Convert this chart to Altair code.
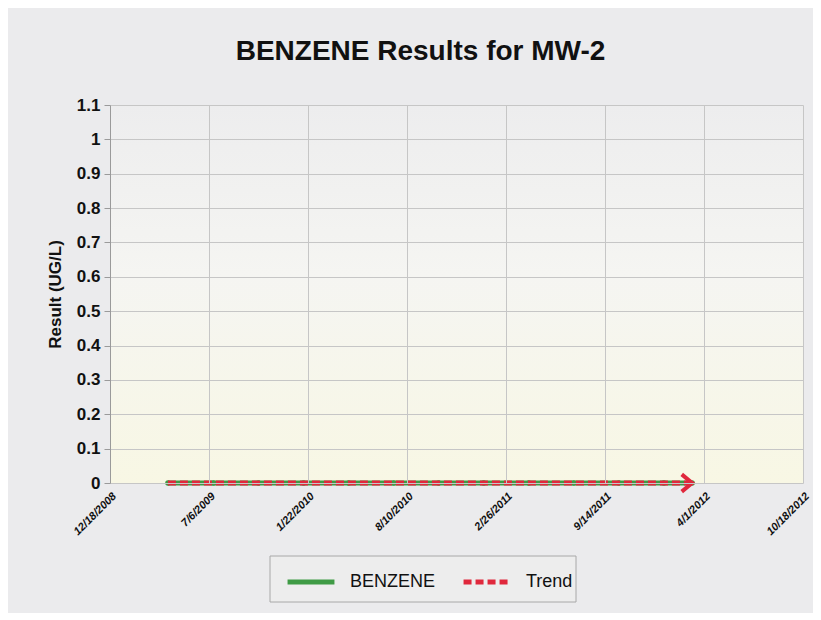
import altair as alt
import pandas as pd

# ---- data ----
sample_dates = ["2009-04-14", "2009-07-15", "2009-10-14", "2010-01-13", "2010-04-14",
                "2010-07-14", "2010-10-13", "2011-01-12", "2011-04-13", "2011-07-13",
                "2011-10-12", "2012-01-11", "2012-03-08"]
benzene_values = [0.0, 0.0, 0.0, 0.0, 0.0, 0.0, 0.0, 0.0, 0.0, 0.0, 0.0, 0.0, 0.0]
trend_dates = ["2009-04-14", "2012-03-08"]
trend_values = [0.0, 0.0]
x_tick_dates = [(2008, 12, 18), (2009, 7, 6), (2010, 1, 22), (2010, 8, 10),
                (2011, 2, 26), (2011, 9, 14), (2012, 4, 1), (2012, 10, 18)]
y_ticks = [0, 0.1, 0.2, 0.3, 0.4, 0.5, 0.6, 0.7, 0.8, 0.9, 1, 1.1]
series_names = ["BENZENE", "Trend"]
series_colors = ["#3f9b45", "#e0283c"]

W, H = 693, 378
FONT = "Liberation Sans"

benz = pd.DataFrame({"date": sample_dates, "value": benzene_values, "series": "BENZENE"})
trend = pd.DataFrame({"date": trend_dates, "value": trend_values, "series": "Trend"})
arrow = trend.tail(1)

def dt(t):
    return alt.DateTime(year=t[0], month=t[1], date=t[2], utc=True)

x_enc = alt.X("date:T",
              scale=alt.Scale(type="utc", domain=[dt(x_tick_dates[0]), dt(x_tick_dates[-1])]),
              axis=alt.Axis(values=[dt(t) for t in x_tick_dates],
                            labelExpr="utcFormat(datum.value, '%-m/%-d/%Y')",
                            title=None, labelAngle=-45, labelAlign="right",
                            labelBaseline="top", labelFont=FONT, labelFontSize=11,
                            labelFontWeight="bold", labelFontStyle="italic", labelColor="#111",
                            grid=True, gridColor="#c6c6c6", domain=False, ticks=False,
                            labelPadding=7, labelOverlap=False, zindex=1))
y_enc = alt.Y("value:Q",
              scale=alt.Scale(domain=[0, 1.1], nice=False),
              axis=alt.Axis(values=y_ticks, format="~g", title="Result (UG/L)", titleFont=FONT,
                            titleFontSize=17, titleFontWeight="bold", titleColor="#111",
                            titlePadding=12, labelFont=FONT, labelFontSize=17,
                            labelFontWeight="bold", labelColor="#111", grid=True,
                            gridColor="#c6c6c6", domainColor="#9a9a9a", tickColor="#9a9a9a",
                            tickSize=6, labelPadding=4, labelOverlap=False, zindex=1))

legend_common = dict(title=None, orient="none", direction="horizontal",
                     legendX=175, legendY=451, symbolType="stroke",
                     symbolSize=2200, symbolStrokeWidth=5,
                     labelFont=FONT, labelFontSize=18, labelColor="#111",
                     padding=0, columnPadding=17, labelOffset=13)
color_enc = alt.Color("series:N",
                      scale=alt.Scale(domain=series_names, range=series_colors),
                      legend=alt.Legend(**legend_common))
dash_enc = alt.StrokeDash("series:N",
                          scale=alt.Scale(domain=series_names, range=[[1, 0], [8, 4]]),
                          legend=alt.Legend(**legend_common))

bg = alt.Chart(pd.DataFrame({"a": [0]})).mark_rect(
    color=alt.Gradient(gradient="linear", x1=0, x2=0, y1=0, y2=1,
                       stops=[alt.GradientStop(offset=0, color="#ededee"),
                              alt.GradientStop(offset=0.45, color="#f5f5f2"),
                              alt.GradientStop(offset=1, color="#f8f7e4")])
).encode(x=alt.value(0), x2=alt.value(W), y=alt.value(0), y2=alt.value(H))

# frame behind the legend entries
legend_box = alt.Chart(pd.DataFrame({"a": [0]})).mark_rect(
    fill="#ededed", stroke="#a8a8a8", strokeWidth=1, clip=False
).encode(x=alt.value(160), x2=alt.value(466), y=alt.value(451), y2=alt.value(497))

benz_line = alt.Chart(benz).mark_line(strokeWidth=5, clip=False).encode(
    x=x_enc, y=y_enc, color=color_enc, strokeDash=dash_enc)
benz_pts = alt.Chart(benz).mark_point(filled=True, size=30, opacity=1,
                                      color=series_colors[0], clip=False).encode(x=x_enc, y=y_enc)
trend_line = alt.Chart(trend).mark_line(strokeWidth=5, clip=False).encode(
    x=x_enc, y=y_enc, color=color_enc, strokeDash=dash_enc)
arrow_head = alt.Chart(arrow).mark_point(shape="M-1.2,-1L0,0L-1.2,1", filled=False, size=300,
                                         strokeWidth=4, color=series_colors[1], opacity=1,
                                         clip=False).encode(x=x_enc, y=y_enc)

chart = alt.layer(bg, legend_box, benz_line, benz_pts, trend_line, arrow_head).properties(
    width=W, height=H,
    title=alt.TitleParams("BENZENE Results for MW-2", font=FONT, fontSize=28,
                          fontWeight="bold", color="#111", anchor="middle", dx=-36, offset=30),
    background="#ebebed",
    padding={"left": 102, "top": 97, "right": 10, "bottom": 130},
    autosize=alt.AutoSizeParams(type="none"),
).configure_view(stroke=None)

chart.save("out.html", embed_options={"renderer": "svg", "actions": False})
